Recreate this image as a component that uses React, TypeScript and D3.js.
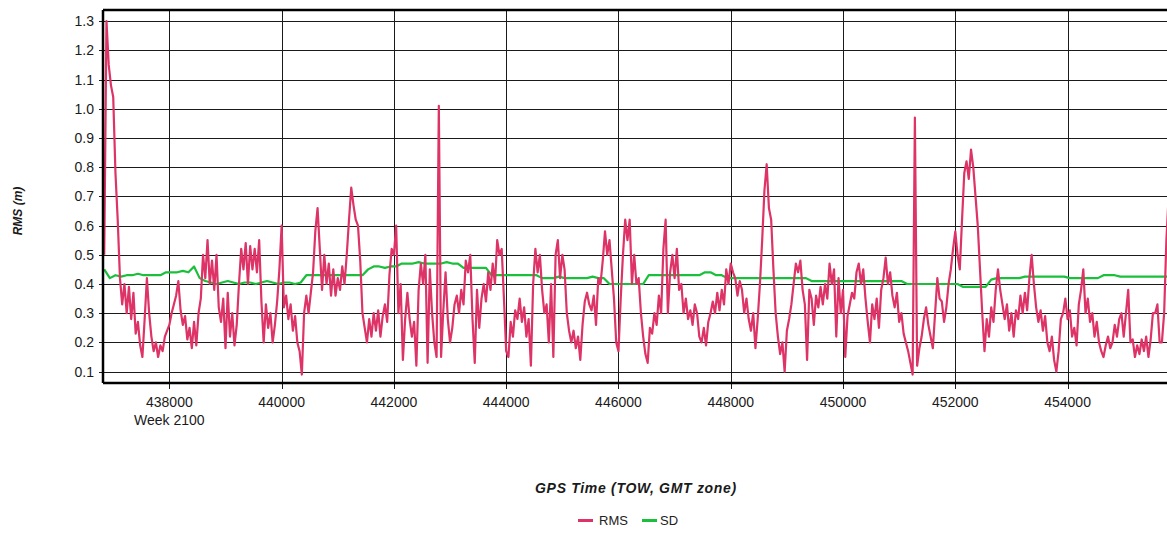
import React, { useEffect, useRef } from 'react';
import * as d3 from 'd3';

// GPS time of week (s) of first sample and sampling intervals
const RMS_START_TOW = 436840;
const RMS_STEP_S = 40;
const SD_START_TOW = 436840;
const SD_STEP_S = 100;

const rmsValues = [
  0.50, 1.30, 1.15, 1.08, 1.04, 0.78, 0.62, 0.42, 0.33, 0.40, 0.30, 0.39, 0.28, 0.37, 0.23, 0.27, 0.19, 0.15, 0.28, 0.42, 0.30, 0.22, 0.17, 0.20, 0.15, 0.19, 0.17, 0.22, 0.24,
  0.26, 0.30, 0.33, 0.36, 0.41, 0.31, 0.26, 0.29, 0.21, 0.25, 0.18, 0.27, 0.19, 0.30, 0.35, 0.50, 0.42, 0.55, 0.40, 0.48,
  0.38, 0.50, 0.32, 0.27, 0.35, 0.18, 0.37, 0.22, 0.30, 0.19, 0.26, 0.40, 0.52, 0.45, 0.54, 0.40, 0.53, 0.45, 0.52, 0.44,
  0.55, 0.34, 0.20, 0.33, 0.25, 0.30, 0.20, 0.26, 0.34, 0.45,
  0.60, 0.32, 0.36, 0.28, 0.33, 0.24, 0.29, 0.20, 0.17, 0.09, 0.30, 0.36, 0.30, 0.37, 0.44, 0.58, 0.66, 0.52, 0.38, 0.50,
  0.40, 0.47, 0.36, 0.45, 0.36, 0.42, 0.38, 0.46, 0.40, 0.50, 0.62, 0.73, 0.67, 0.62, 0.60, 0.48, 0.30, 0.25, 0.20, 0.28,
  0.22, 0.30, 0.24, 0.31, 0.22, 0.29, 0.33, 0.27, 0.43, 0.52,
  0.50, 0.60, 0.30, 0.40, 0.14, 0.28, 0.37, 0.28, 0.22, 0.27, 0.12, 0.38, 0.47, 0.40, 0.50, 0.13, 0.45, 0.30, 0.20, 0.15,
  1.01, 0.15, 0.31, 0.44, 0.28, 0.20, 0.25, 0.33, 0.36, 0.30, 0.38, 0.33, 0.48, 0.44, 0.50, 0.28, 0.13, 0.38, 0.25, 0.35,
  0.40, 0.34, 0.44, 0.38, 0.47, 0.40, 0.55, 0.50, 0.52, 0.35,
  0.17, 0.15, 0.27, 0.22, 0.31, 0.28, 0.35, 0.27, 0.32, 0.22, 0.28, 0.12, 0.40, 0.52, 0.44, 0.50, 0.38, 0.30, 0.33, 0.20,
  0.40, 0.15, 0.50, 0.55, 0.42, 0.50, 0.45, 0.30, 0.24, 0.20, 0.24, 0.18, 0.22, 0.14, 0.26, 0.34, 0.37, 0.33, 0.31, 0.36,
  0.26, 0.42, 0.40, 0.48, 0.58, 0.50, 0.55, 0.45, 0.35, 0.20,
  0.17, 0.35, 0.50, 0.62, 0.55, 0.62, 0.40, 0.50, 0.40, 0.42, 0.30, 0.22, 0.16, 0.13, 0.25, 0.23, 0.30, 0.26, 0.36, 0.30,
  0.52, 0.62, 0.30, 0.44, 0.50, 0.42, 0.52, 0.38, 0.40, 0.30, 0.35, 0.28, 0.31, 0.26, 0.33, 0.30, 0.22, 0.20, 0.25, 0.19,
  0.27, 0.30, 0.34, 0.30, 0.37, 0.31, 0.38, 0.33, 0.45, 0.40,
  0.47, 0.44, 0.42, 0.36, 0.41, 0.38, 0.30, 0.35, 0.28, 0.24, 0.30, 0.18, 0.28, 0.40, 0.55, 0.72, 0.81, 0.66, 0.62, 0.45,
  0.30, 0.22, 0.16, 0.20, 0.10, 0.24, 0.28, 0.33, 0.40, 0.47, 0.44, 0.48, 0.38, 0.33, 0.14, 0.38, 0.35, 0.26, 0.36, 0.32,
  0.39, 0.33, 0.40, 0.35, 0.47, 0.40, 0.45, 0.22, 0.42, 0.30,
  0.38, 0.15, 0.29, 0.33, 0.37, 0.35, 0.44, 0.47, 0.40, 0.45, 0.35, 0.27, 0.20, 0.33, 0.28, 0.35, 0.25, 0.38, 0.42, 0.49,
  0.40, 0.44, 0.36, 0.32, 0.37, 0.27, 0.30, 0.23, 0.20, 0.17, 0.13, 0.09, 0.97, 0.12, 0.18, 0.22, 0.28, 0.32, 0.26, 0.22,
  0.18, 0.30, 0.42, 0.35, 0.34, 0.27, 0.32, 0.40, 0.45, 0.52,
  0.58, 0.50, 0.45, 0.62, 0.78, 0.82, 0.76, 0.86, 0.80, 0.70, 0.60, 0.45, 0.30, 0.17, 0.28, 0.22, 0.32, 0.27, 0.38, 0.45,
  0.38, 0.33, 0.28, 0.33, 0.24, 0.30, 0.22, 0.31, 0.28, 0.36, 0.30, 0.37, 0.31, 0.42, 0.50, 0.40, 0.32, 0.27, 0.31, 0.24,
  0.29, 0.20, 0.17, 0.22, 0.14, 0.10, 0.17, 0.28, 0.30, 0.35,
  0.28, 0.31, 0.22, 0.25, 0.19, 0.33, 0.38, 0.45, 0.30, 0.35, 0.27, 0.30, 0.22, 0.27, 0.20, 0.17, 0.15, 0.19, 0.22, 0.18,
  0.20, 0.26, 0.22, 0.28, 0.30, 0.22, 0.30, 0.38, 0.20, 0.21, 0.15, 0.19, 0.16, 0.21, 0.17, 0.22, 0.15, 0.21, 0.30, 0.30,
  0.33, 0.20, 0.20, 0.30, 0.55, 0.70, 0.75,
];

const sdValues = [
  0.45, 0.42, 0.43, 0.425, 0.43, 0.43, 0.435, 0.43, 0.43, 0.43, 0.43,
  0.44, 0.44, 0.44, 0.445, 0.44, 0.46, 0.42,
  0.41, 0.405, 0.40, 0.405, 0.41, 0.405, 0.40, 0.405, 0.405, 0.40, 0.405, 0.41, 0.405, 0.40, 0.405, 0.405, 0.40, 0.405,
  0.43, 0.43, 0.43, 0.43, 0.43, 0.43, 0.43, 0.43, 0.43, 0.43, 0.43,
  0.45, 0.46, 0.46, 0.455, 0.46, 0.46,
  0.47, 0.47, 0.47, 0.475, 0.47, 0.47, 0.47, 0.47, 0.475, 0.47, 0.47,
  0.455, 0.455, 0.455, 0.455, 0.455,
  0.43, 0.43, 0.43, 0.43, 0.43, 0.43, 0.43, 0.43, 0.43,
  0.42, 0.42, 0.42, 0.425, 0.42, 0.42, 0.42, 0.42, 0.42, 0.425, 0.42, 0.42,
  0.40, 0.40, 0.40, 0.40, 0.40, 0.40, 0.40,
  0.43, 0.43, 0.43, 0.43, 0.43, 0.43, 0.43, 0.43, 0.43, 0.43, 0.44, 0.44, 0.43, 0.43,
  0.42, 0.42, 0.42, 0.42, 0.42, 0.42, 0.42, 0.42, 0.42, 0.42, 0.42, 0.42, 0.42, 0.42, 0.42,
  0.41, 0.41, 0.41, 0.41, 0.41, 0.41, 0.41, 0.41, 0.41, 0.41, 0.41, 0.41, 0.41, 0.41, 0.41, 0.41, 0.41,
  0.40, 0.40, 0.40, 0.40, 0.40, 0.40, 0.40, 0.40, 0.40, 0.40,
  0.39, 0.39, 0.39, 0.39, 0.39,
  0.415,
  0.42, 0.42, 0.42, 0.42, 0.42,
  0.425, 0.425, 0.425, 0.425, 0.425, 0.425, 0.425, 0.425,
  0.42, 0.42, 0.42, 0.42, 0.42, 0.42,
  0.43, 0.43, 0.43,
  0.425, 0.425, 0.425, 0.425, 0.425, 0.425, 0.425, 0.425, 0.425, 0.425,
];

const yTicks = [0.1, 0.2, 0.3, 0.4, 0.5, 0.6, 0.7, 0.8, 0.9, 1.0, 1.1, 1.2, 1.3];
const xTicks = [438000, 440000, 442000, 444000, 446000, 448000, 450000, 452000, 454000];
const weekLabel = 'Week 2100';
const yDomain = [0.061, 1.338];
const xDomain = [436818, 455860];

const series = [
  { name: 'RMS', color: '#dd3366' },
  { name: 'SD', color: '#1abf3c' },
];

const W = 1167;
const H = 534;
const FONT = 'Arial, "Liberation Sans", sans-serif';

const App: React.FC = () => {
  const svgRef = useRef<SVGSVGElement>(null);

  useEffect(() => {
    if (!svgRef.current) return;
    const svg = d3.select(svgRef.current);
    svg.selectAll('*').remove();

    const left = 103;
    const top = 10;
    const bottom = 383;
    const right = 1172;

    const x = d3.scaleLinear().domain(xDomain).range([left, right]);
    const y = d3.scaleLinear().domain(yDomain).range([bottom, top]);

    const rms = rmsValues.map((v, i) => ({ t: RMS_START_TOW + i * RMS_STEP_S, v }));
    const sd = sdValues.map((v, i) => ({ t: SD_START_TOW + i * SD_STEP_S, v }));

    svg.append('defs').append('clipPath').attr('id', 'plot-clip')
      .append('rect')
      .attr('x', left).attr('y', top)
      .attr('width', right - left).attr('height', bottom - top);

    // Grid
    const grid = svg.append('g').attr('shape-rendering', 'crispEdges');
    yTicks.forEach((t) => {
      const yy = Math.round(y(t)) + 0.5;
      grid.append('line')
        .attr('x1', left - 4).attr('x2', right)
        .attr('y1', yy).attr('y2', yy)
        .attr('stroke', '#1a1a1a').attr('stroke-width', 1.3);
    });
    xTicks.forEach((t) => {
      const xx = Math.round(x(t)) + 0.5;
      grid.append('line')
        .attr('x1', xx).attr('x2', xx)
        .attr('y1', top).attr('y2', bottom + 6)
        .attr('stroke', '#1a1a1a').attr('stroke-width', 1.3);
    });

    // Series
    const line = d3.line<{ t: number; v: number }>()
      .x((d) => x(d.t))
      .y((d) => y(d.v));

    const plot = svg.append('g').attr('clip-path', 'url(#plot-clip)');
    plot.append('path')
      .datum(sd)
      .attr('d', line)
      .attr('fill', 'none')
      .attr('stroke', series[1].color)
      .attr('stroke-width', 2.2)
      .attr('stroke-linejoin', 'round');
    plot.append('path')
      .datum(rms)
      .attr('d', line)
      .attr('fill', 'none')
      .attr('stroke', series[0].color)
      .attr('stroke-width', 2.2)
      .attr('stroke-linejoin', 'round');

    // Frame
    const frame = svg.append('g').attr('stroke', '#000').attr('stroke-width', 2.5);
    frame.append('line').attr('x1', left).attr('x2', right).attr('y1', top).attr('y2', top);
    frame.append('line').attr('x1', left).attr('x2', left).attr('y1', top).attr('y2', bottom);
    frame.append('line').attr('x1', left).attr('x2', right).attr('y1', bottom).attr('y2', bottom);

    // Y tick labels
    yTicks.forEach((t) => {
      svg.append('text')
        .attr('x', 94)
        .attr('y', y(t))
        .attr('dy', '0.36em')
        .attr('text-anchor', 'end')
        .attr('font-family', FONT)
        .attr('font-size', '14px')
        .attr('fill', '#1a1a1a')
        .text(d3.format('.1f')(t));
    });

    // X tick labels
    xTicks.forEach((t, i) => {
      svg.append('text')
        .attr('x', x(t))
        .attr('y', 407)
        .attr('text-anchor', 'middle')
        .attr('font-family', FONT)
        .attr('font-size', '14px')
        .attr('fill', '#1a1a1a')
        .text(String(t));
      if (i === 0) {
        svg.append('text')
          .attr('x', x(t))
          .attr('y', 425)
          .attr('text-anchor', 'middle')
          .attr('font-family', FONT)
          .attr('font-size', '14px')
          .attr('fill', '#1a1a1a')
          .text(weekLabel);
      }
    });

    // Axis titles
    svg.append('text')
      .attr('transform', 'translate(22,211) rotate(-90)')
      .attr('text-anchor', 'middle')
      .attr('font-family', FONT)
      .attr('font-size', '12px')
      .attr('font-weight', 'bold')
      .attr('font-style', 'italic')
      .attr('fill', '#1a1a1a')
      .text('RMS (m)');

    svg.append('text')
      .attr('x', 636)
      .attr('y', 493)
      .attr('text-anchor', 'middle')
      .attr('font-family', FONT)
      .attr('font-size', '14px')
      .attr('font-weight', 'bold')
      .attr('font-style', 'italic')
      .attr('letter-spacing', '0.7px')
      .attr('fill', '#1a1a1a')
      .text('GPS Time (TOW, GMT zone)');

    // Legend
    const legendItems = [
      { ...series[0], lx: 578, tx: 599 },
      { ...series[1], lx: 642, tx: 660 },
    ];
    legendItems.forEach((it) => {
      svg.append('line')
        .attr('x1', it.lx).attr('x2', it.lx + 15)
        .attr('y1', 520.5).attr('y2', 520.5)
        .attr('stroke', it.color)
        .attr('stroke-width', 3);
      svg.append('text')
        .attr('x', it.tx)
        .attr('y', 525)
        .attr('font-family', FONT)
        .attr('font-size', '13px')
        .attr('fill', '#222')
        .text(it.name);
    });
  }, []);

  return (
    <svg
      ref={svgRef}
      width={W}
      height={H}
      style={{ position: 'absolute', left: 0, top: 0, background: '#fff' }}
    />
  );
};

export default App;
